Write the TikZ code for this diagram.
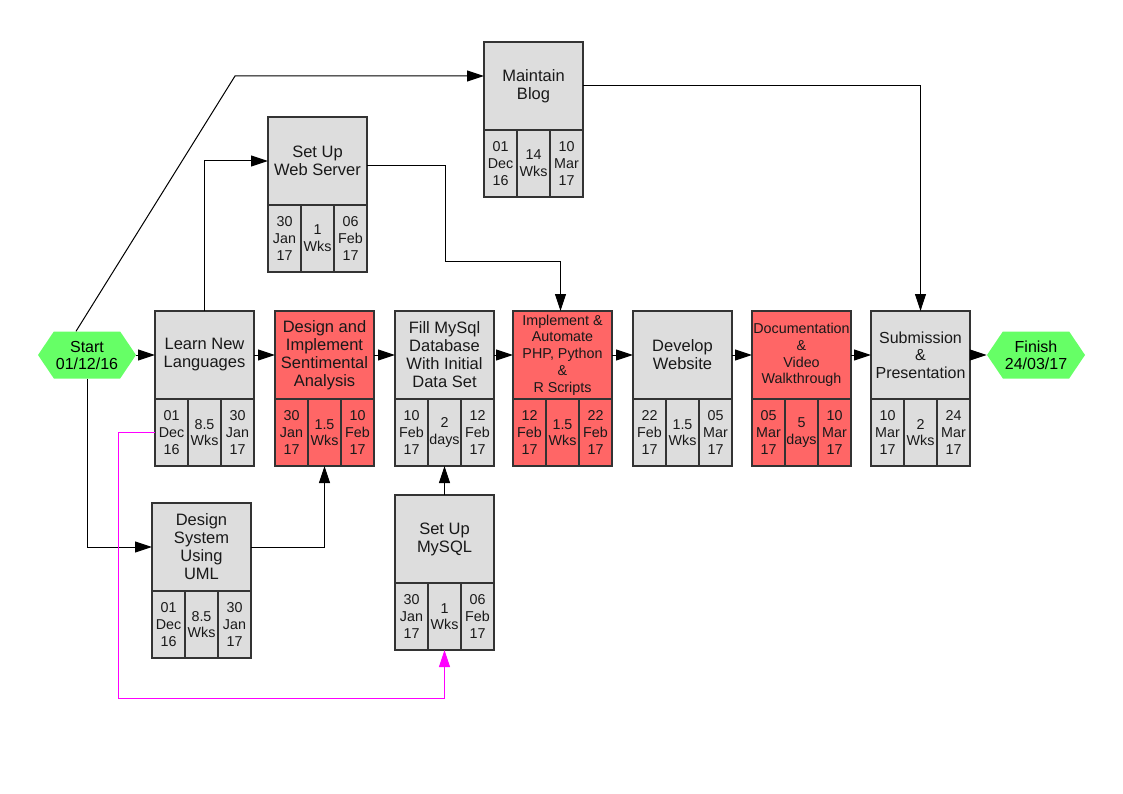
\documentclass[tikz,border=0pt]{standalone}
\usepackage{fontspec}
\setmainfont{Liberation Sans}
\usetikzlibrary{arrows.meta,calc,shapes.symbols}
\definecolor{boxgray}{HTML}{DDDDDD}
\definecolor{critred}{HTML}{FF6666}
\definecolor{milegreen}{HTML}{66FF66}
\definecolor{linkmag}{HTML}{FF00FF}
\tikzset{
  base/.style={draw=black!80, line width=1.1pt, outer sep=0pt, inner sep=1pt,
    align=center, text=black!90},
  head/.style={base, minimum width=99pt, minimum height=88pt,
    font=\fontsize{16.5}{18}\selectfont},
  cell/.style={base, minimum width=33pt, minimum height=67pt,
    font=\fontsize{14.3}{16.7}\selectfont},
  plain/.style={fill=boxgray},
  crit/.style={fill=critred},
  small/.style={font=\fontsize{14.3}{16.7}\selectfont},
  mid/.style={font=\fontsize{16}{17.5}\selectfont},
  mile/.style={signal, signal to=west and east, signal pointer angle=112,
    fill=milegreen, draw=none, minimum width=98pt, minimum height=47pt,
    inner sep=0pt, align=center, font=\fontsize{16}{17}\selectfont},
  link/.style={draw=black, line width=1pt, -{Triangle[length=17pt,width=11pt]}},
  xlink/.style={link, draw=linkmag, -{Triangle[length=17pt,width=11pt,fill=linkmag]}}
}
% task box: name, left x, top y, style, title, start, duration, end
\newcommand\task[8]{%
  \node[head,#4] (#1) at ({#2+49.5},{#3+44}) {#5};
  \node[#4,cell,anchor=north west] (#1-a) at (#1.south west) {#6};
  \node[#4,cell,anchor=north west] (#1-b) at (#1-a.north east) {#7};
  \node[#4,cell,anchor=north west] (#1-c) at (#1-b.north east) {#8};
}
\begin{document}
\begin{tikzpicture}[x=1pt,y=-1pt]
\useasboundingbox[fill=white] (0,0) rectangle (1123,794);

% milestones
\node[mile] (start) at (87,355) {Start\\01/12/16};
\node[mile] (fin) at (1036,355) {Finish\\24/03/17};

% main chain
\task{learn}{155}{311}{plain}{Learn New\\Languages}{01\\Dec\\16}{8.5\\Wks}{30\\Jan\\17}
\task{dia}{275}{311}{crit}{Design and\\Implement\\Sentimental\\Analysis}{30\\Jan\\17}{1.5\\Wks}{10\\Feb\\17}
\task{fill}{395}{311}{plain}{Fill MySql\\Database\\With Initial\\Data Set}{10\\Feb\\17}{2\\days}{12\\Feb\\17}
\task{impl}{513}{311}{crit,small}{Implement \&\\Automate\\PHP, Python\\\&\\R Scripts}{12\\Feb\\17}{1.5\\Wks}{22\\Feb\\17}
\task{dev}{633}{311}{plain}{Develop\\Website}{22\\Feb\\17}{1.5\\Wks}{05\\Mar\\17}
\task{doc}{752}{311}{crit,small}{Documentation\\\&\\Video\\Walkthrough}{05\\Mar\\17}{5\\days}{10\\Mar\\17}
\task{sub}{871}{311}{plain,mid}{Submission\\\&\\Presentation}{10\\Mar\\17}{2\\Wks}{24\\Mar\\17}

% side tasks
\task{uml}{152}{503}{plain}{Design\\System\\Using\\UML}{01\\Dec\\16}{8.5\\Wks}{30\\Jan\\17}
\task{mysql}{395}{495}{plain}{Set Up\\MySQL}{30\\Jan\\17}{1\\Wks}{06\\Feb\\17}
\task{web}{268}{117}{plain}{Set Up\\Web Server}{30\\Jan\\17}{1\\Wks}{06\\Feb\\17}
\task{blog}{484}{42}{plain}{Maintain\\Blog}{01\\Dec\\16}{14\\Wks}{10\\Mar\\17}

% chain connectors
\draw[link] (start.east) -- (learn.west);
\draw[link] (learn.east) -- (dia.west);
\draw[link] (dia.east) -- (fill.west);
\draw[link] (fill.east) -- (impl.west);
\draw[link] (impl.east) -- (dev.west);
\draw[link] (dev.east) -- (doc.west);
\draw[link] (doc.east) -- (sub.west);
\draw[link] (sub.east) -- (fin.west);

% branch connectors
\draw[link] ($(start.north)+(-11,0)$) -- ($(blog.west)+(-249,-10)$) -- ($(blog.west)+(0,-10)$);
\draw[link] (blog.east) -| (sub.north);
\draw[link] (learn.north) |- (web.west);
\draw[link] ($(web.east)+(0,5)$) -- ++(78,0) |- ($(impl.north)+(-2,-50)$) -- ($(impl.north)+(-2,0)$);
\draw[link] (start.south) |- (uml.west);
\draw[link] (uml.east) -| (dia-b.south);
\draw[link] (mysql.north) -- (fill-b.south);
\draw[xlink] (learn-a.west) -- ++(-37,0) |- ($(mysql-b.south)+(0,48)$) -- (mysql-b.south);
\end{tikzpicture}
\end{document}
